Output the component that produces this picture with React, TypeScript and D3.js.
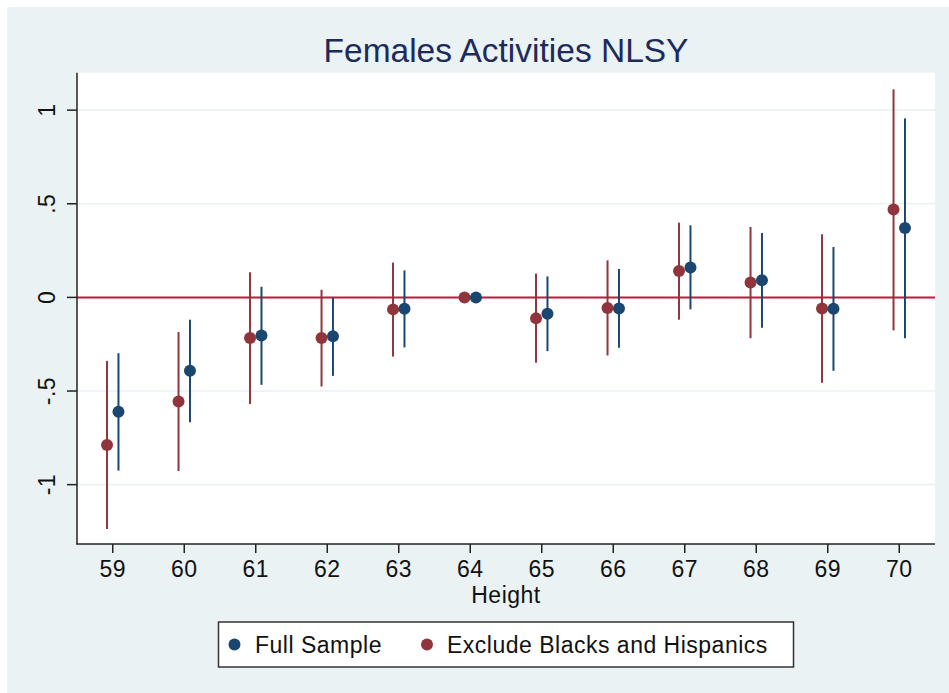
import React from "react";
import * as d3 from "d3";

// Height categories (inches) and estimated coefficients with 95% CIs
const heights = [59, 60, 61, 62, 63, 64, 65, 66, 67, 68, 69, 70];

const fullEst = [-0.611, -0.392, -0.203, -0.208, -0.061, 0, -0.087, -0.059, 0.160, 0.091, -0.061, 0.371];
const fullLo = [-0.925, -0.667, -0.467, -0.419, -0.267, 0, -0.287, -0.269, -0.064, -0.162, -0.392, -0.218];
const fullHi = [-0.298, -0.119, 0.057, -0.002, 0.144, 0, 0.112, 0.152, 0.385, 0.344, 0.269, 0.956];

const exclEst = [-0.788, -0.556, -0.217, -0.217, -0.064, 0, -0.112, -0.057, 0.141, 0.079, -0.059, 0.469];
const exclLo = [-1.237, -0.927, -0.569, -0.476, -0.316, 0, -0.349, -0.310, -0.119, -0.218, -0.456, -0.176];
const exclHi = [-0.339, -0.185, 0.134, 0.041, 0.186, 0, 0.127, 0.198, 0.399, 0.376, 0.337, 1.111];

const yTicks = [-1, -0.5, 0, 0.5, 1];
const yTickLabels = ["-1", "-.5", "0", ".5", "1"];

const title = "Females Activities NLSY";
const xTitle = "Height";
const seriesNames = ["Full Sample", "Exclude Blacks and Hispanics"];

const W = 949;
const H = 693;
const FONT = "'Liberation Sans', Arial, Helvetica, sans-serif";
const BG = "#eaf2f3";
const BLUE = "#1a476f";
const RED = "#90353b";
const ZERO = "#c4173b";
const LABEL_SIZE = 23;
const LABEL_SPACING = 0.5;

export default function App() {
  const plot = { left: 77, right: 935, top: 72.7, bottom: 544 };
  const x = d3.scaleLinear().domain([58.5, 70.5]).range([plot.left, plot.right]);
  const y = d3.scaleLinear().domain([-1.317, 1.2]).range([plot.bottom, plot.top]);

  const series = [
    { name: seriesNames[1], color: RED, off: -0.08, est: exclEst, lo: exclLo, hi: exclHi },
    { name: seriesNames[0], color: BLUE, off: 0.08, est: fullEst, lo: fullLo, hi: fullHi },
  ];

  const cx = (plot.left + plot.right) / 2;
  const labelStyle = { fontSize: LABEL_SIZE, letterSpacing: LABEL_SPACING };

  return (
    <div style={{ position: "absolute", left: 0, top: 0 }}>
      <svg width={W} height={H} style={{ display: "block", fontFamily: FONT }}>
        <rect x={0} y={0} width={W} height={H} fill="#ffffff" />
        <rect x={7} y={7} width={W - 7} height={H - 7} fill={BG} />
        <rect
          x={plot.left}
          y={plot.top}
          width={plot.right - plot.left}
          height={plot.bottom - plot.top}
          fill="#ffffff"
        />

        {/* grid lines */}
        {yTicks
          .filter((t) => t !== 0)
          .map((t) => (
            <line
              key={"g" + t}
              x1={plot.left}
              x2={plot.right}
              y1={y(t)}
              y2={y(t)}
              stroke={BG}
              strokeWidth={1.6}
            />
          ))}

        {/* reference line at zero */}
        <line x1={plot.left} x2={plot.right} y1={y(0)} y2={y(0)} stroke={ZERO} strokeWidth={2} />

        {/* confidence intervals and point estimates */}
        {series.map((s) => (
          <g key={s.name}>
            {heights.map((h, i) =>
              s.hi[i] !== s.lo[i] ? (
                <line
                  key={"ci" + h}
                  x1={x(h + s.off)}
                  x2={x(h + s.off)}
                  y1={y(s.lo[i])}
                  y2={y(s.hi[i])}
                  stroke={s.color}
                  strokeWidth={2}
                />
              ) : null
            )}
            {heights.map((h, i) => (
              <circle key={"pt" + h} cx={x(h + s.off)} cy={y(s.est[i])} r={6} fill={s.color} />
            ))}
          </g>
        ))}

        {/* y axis */}
        <line x1={plot.left} x2={plot.left} y1={plot.top} y2={plot.bottom + 0.5} stroke="#222" strokeWidth={1.5} />
        {yTicks.map((t, i) => (
          <g key={"yt" + t}>
            <line x1={plot.left - 10} x2={plot.left} y1={y(t)} y2={y(t)} stroke="#222" strokeWidth={1.5} />
            <text
              transform={`translate(${55},${y(t)}) rotate(-90)`}
              textAnchor="middle"
              style={labelStyle}
              fill="#111"
            >
              {yTickLabels[i]}
            </text>
          </g>
        ))}

        {/* x axis */}
        <line x1={plot.left - 0.5} x2={plot.right} y1={plot.bottom} y2={plot.bottom} stroke="#222" strokeWidth={1.5} />
        {heights.map((h) => (
          <g key={"xt" + h}>
            <line x1={x(h)} x2={x(h)} y1={plot.bottom} y2={plot.bottom + 9} stroke="#222" strokeWidth={1.5} />
            <text x={x(h)} y={577} textAnchor="middle" style={labelStyle} fill="#111">
              {h}
            </text>
          </g>
        ))}
        <text x={cx} y={603} textAnchor="middle" style={labelStyle} fill="#111">
          {xTitle}
        </text>

        {/* title */}
        <text x={cx} y={61.5} textAnchor="middle" fontSize={33.5} fill="#1c2b59">
          {title}
        </text>

        {/* legend */}
        <rect x={218.5} y={622} width={575} height={45} fill="#ffffff" stroke="#333" strokeWidth={1.5} />
        <circle cx={234.5} cy={644.5} r={6} fill={BLUE} />
        <text x={255} y={653} style={labelStyle} fill="#111">
          {seriesNames[0]}
        </text>
        <circle cx={427} cy={644.5} r={6} fill={RED} />
        <text x={447} y={653} style={labelStyle} fill="#111">
          {seriesNames[1]}
        </text>
      </svg>
    </div>
  );
}
